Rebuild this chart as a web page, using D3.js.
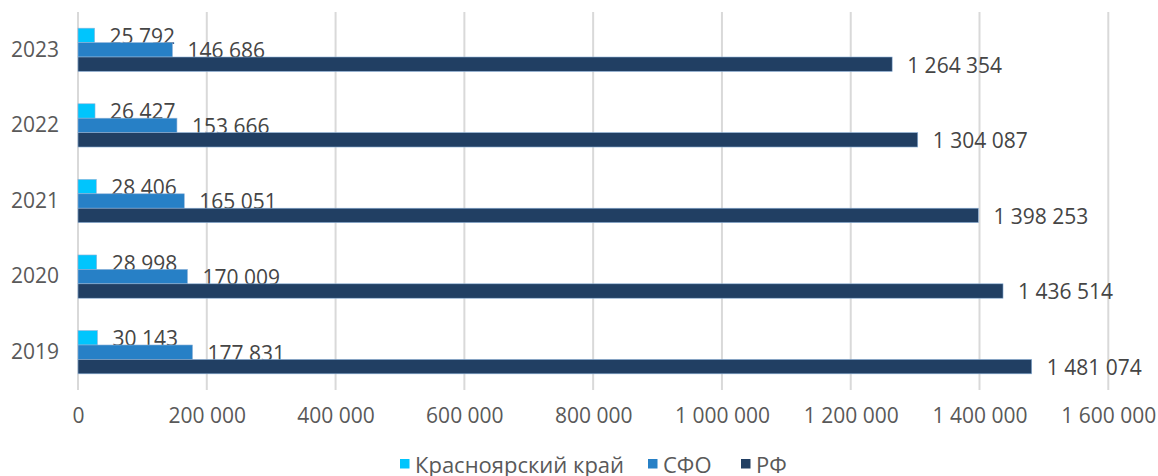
<!DOCTYPE html>
<html>
<head>
<meta charset="utf-8">
<script src="https://cdn.jsdelivr.net/npm/d3@7"></script>
<style>
  body { margin: 0; background: #fff; }
  svg { font-family: "Open Sans", sans-serif; }
</style>
</head>
<body>
<div id="chart"></div>
<script>
var years = ["2023", "2022", "2021", "2020", "2019"];
var seriesNames = ["Красноярский край", "СФО", "РФ"];
var seriesColors = ["#00c5fd", "#2780c6", "#213f63"];
var krasnoyarsk = [25792, 26427, 28406, 28998, 30143];
var sfo = [146686, 153666, 165051, 170009, 177831];
var rf = [1264354, 1304087, 1398253, 1436514, 1481074];
var xTicks = [0, 200000, 400000, 600000, 800000, 1000000, 1200000, 1400000, 1600000];

var seriesValues = [krasnoyarsk, sfo, rf];

var fontFamily = "'Open Sans', sans-serif";
var fontSize = 21;

var svg = d3.select("#chart").append("svg").attr("width", 1158).attr("height", 476),
    margin = {top: 12, right: 50, bottom: 86, left: 78},
    width = 1108.3 - margin.left,
    height = 390 - margin.top,
    g = svg.append("g").attr("transform", "translate(" + margin.left + "," + margin.top + ")");

var fmt = function (v) {
    return d3.format(",")(v).replace(/,/g, " ");
};

var x = d3.scaleLinear().domain([0, 1600000]).range([0, width]);

var y0 = d3.scaleBand()
    .domain(years)
    .range([0, height])
    .paddingInner(0.428)
    .paddingOuter(0.214);

var y1 = d3.scaleBand()
    .domain(seriesNames)
    .range([0, y0.bandwidth()]);

// gridlines
g.append("g")
    .selectAll("line")
    .data(xTicks)
    .enter().append("line")
    .attr("x1", function (d) { return x(d); })
    .attr("x2", function (d) { return x(d); })
    .attr("y1", 0)
    .attr("y2", height)
    .attr("stroke", "#d9d9d9")
    .attr("stroke-width", 2);

// x axis labels
var xAxis = g.append("g")
    .attr("transform", "translate(0," + height + ")")
    .call(d3.axisBottom(x).tickValues(xTicks).tickSize(0).tickPadding(18).tickFormat(fmt));
xAxis.select(".domain").remove();
xAxis.selectAll("text")
    .attr("font-size", fontSize)
    .attr("font-family", fontFamily)
    .attr("fill", "#595959");

// y axis labels
var yAxis = g.append("g")
    .call(d3.axisLeft(y0).tickSize(0).tickPadding(19));
yAxis.select(".domain").remove();
yAxis.selectAll("text")
    .attr("font-size", fontSize)
    .attr("font-family", fontFamily)
    .attr("fill", "#595959");

// bars
var groups = g.append("g")
    .selectAll("g")
    .data(years)
    .enter().append("g")
    .attr("transform", function (d) { return "translate(0," + y0(d) + ")"; });

var cells = groups.selectAll("g")
    .data(function (d, i) {
        return seriesNames.map(function (s, j) {
            return {series: s, idx: j, value: seriesValues[j][i]};
        });
    })
    .enter().append("g");

cells.append("rect")
    .attr("x", x(0))
    .attr("y", function (d) { return y1(d.series); })
    .attr("width", function (d) { return x(d.value) - x(0); })
    .attr("height", y1.bandwidth())
    .attr("fill", function (d) { return seriesColors[d.idx]; })
    .attr("stroke", "#8fb3d9")
    .attr("stroke-width", 0.6);

cells.append("text")
    .attr("x", function (d) { return x(d.value) + 15; })
    .attr("y", function (d) { return y1(d.series) + y1.bandwidth() / 2 + 1; })
    .attr("dy", "0.35em")
    .attr("font-size", fontSize)
    .attr("fill", "#454545")
    .text(function (d) { return fmt(d.value); });

// legend (cut by the bottom edge, as in the original)
var legendX = [400, 648, 741];
var legend = svg.append("g")
    .selectAll("g")
    .data(seriesNames)
    .enter().append("g")
    .attr("transform", function (d, i) { return "translate(" + legendX[i] + ",459)"; });

legend.append("rect")
    .attr("width", 9.5)
    .attr("height", 9.5)
    .attr("fill", function (d, i) { return seriesColors[i]; });

legend.append("text")
    .attr("x", 15)
    .attr("y", 14)
    .attr("font-size", 22)
    .attr("fill", "#595959")
    .text(function (d) { return d; });
</script>
</body>
</html>
